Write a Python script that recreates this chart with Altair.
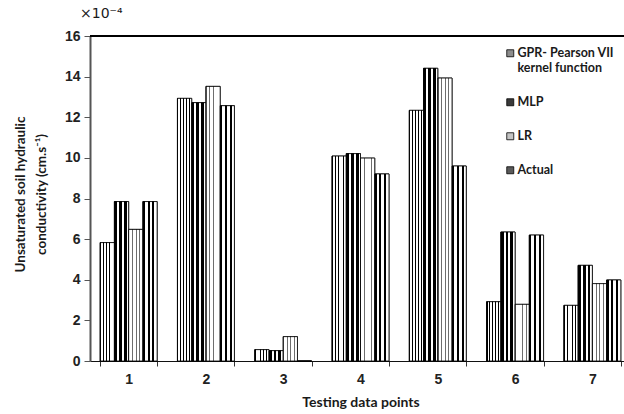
import altair as alt
import pandas as pd

# ---- data (values in units of 1e-4 cm/s) ----
points = ["1", "2", "3", "4", "5", "6", "7"]
series_names = ["GPR- Pearson VII kernel function", "MLP", "LR", "Actual"]
gpr = [5.83, 12.93, 0.56, 10.09, 12.34, 2.92, 2.74]
mlp = [7.85, 12.72, 0.51, 10.21, 14.41, 6.35, 4.71]
lr = [6.48, 13.52, 1.20, 9.99, 13.93, 2.79, 3.81]
actual = [7.85, 12.57, 0.00, 9.21, 9.60, 6.20, 3.99]
y_ticks = [0, 2, 4, 6, 8, 10, 12, 14, 16]

rows = []
for name, vals in zip(series_names, [gpr, mlp, lr, actual]):
    for p, v in zip(points, vals):
        rows.append({"point": p, "series": name, "value": v})
df = pd.DataFrame(rows)


# ---- stripe textures built from linear gradients ----
def stripes(n, frac, ink, paper):
    stops = []
    for i in range(n):
        a = i / n
        b = (i + frac) / n
        c = (i + 1) / n
        stops += [(a, ink), (b, ink), (b, paper), (c, paper)]
    return alt.LinearGradient(
        gradient="linear", x1=0, y1=0, x2=1, y2=0,
        stops=[alt.GradientStop(offset=o, color=col) for o, col in stops],
    )


tex_gpr = stripes(5, 0.32, "#000000", "#ffffff")
tex_mlp = stripes(3, 0.58, "#000000", "#ffffff")
tex_lr = stripes(4, 0.22, "#6e6e6e", "#ffffff")
tex_act = stripes(3, 0.42, "#000000", "#ffffff")

W, H = 534, 325
label_font = "Liberation Sans, Arial, sans-serif"
title_font = "Lato, Carlito, Calibri, sans-serif"

x_enc = alt.X(
    "point:N",
    sort=points,
    scale=alt.Scale(range=[0, 541], paddingInner=0.263, paddingOuter=0.1315),
    axis=alt.Axis(
        title="Testing data points",
        labelAngle=0,
        tickBand="extent",
        tickSize=5,
        tickColor="#333333",
        domainColor="#111111",
        domainWidth=1,
        labelFont=label_font,
        labelFontSize=14,
        labelFontWeight="bold",
        labelColor="#222222",
        labelPadding=6,
        titleFont=title_font,
        titleFontSize=14,
        titleFontWeight="bold",
        titleColor="#1a1a1a",
        titlePadding=9,
    ),
)
y_enc = alt.Y(
    "value:Q",
    scale=alt.Scale(domain=[0, 16], nice=False),
    axis=alt.Axis(
        title=["Unsaturated soil hydraulic", "conductivity (cm.s⁻¹)"],
        values=y_ticks,
        grid=False,
        tickSize=6,
        tickColor="#555555",
        domainColor="#555555",
        domainWidth=2,
        labelFont=label_font,
        labelFontSize=14,
        labelFontWeight="bold",
        labelColor="#222222",
        labelPadding=4,
        titleFont=title_font,
        titleFontSize=13.5,
        titleFontWeight="bold",
        titleColor="#1a1a1a",
        titleLineHeight=21,
        titleX=-63,
        titleY=158,
    ),
)
xoff = alt.XOffset("series:N", sort=series_names,
                   scale=alt.Scale(domain=series_names, paddingInner=0, paddingOuter=0))

base = alt.Chart(df).mark_bar(stroke="black", strokeWidth=0.8).encode(
    x=x_enc,
    y=y_enc,
    xOffset=xoff,
    fill=alt.Fill(
        "series:N",
        sort=series_names,
        scale=alt.Scale(domain=series_names,
                        range=["#8c8c8c", "#3a3a3a", "#c4c4c4", "#5a5a5a"]),
        legend=alt.Legend(
            title=None,
            orient="none",
            legendX=414,
            legendY=11,
            symbolType="square",
            symbolSize=49,
            symbolStrokeColor="black",
            symbolStrokeWidth=0.8,
            labelFont=title_font,
            labelFontSize=12.5,
            labelFontWeight="bold",
            labelColor="#1a1a1a",
            labelOffset=1,
            labelLimit=200,
            rowPadding=21,
            labelExpr="datum.label == 'GPR- Pearson VII kernel function' ? ['GPR- Pearson VII', '  kernel function'] : datum.label",
        ),
    ),
)

textured = alt.Chart(df).mark_bar(stroke="black", strokeWidth=0.8).encode(
    x=alt.X("point:N", sort=points),
    y=alt.Y("value:Q"),
    xOffset=alt.XOffset("series:N", sort=series_names),
    fill=alt.FillValue(
        value=tex_act,
        condition=[
            alt.ConditionalPredicateValueDefGradientstringnullExprRef(
                test=f"datum.series === '{series_names[0]}'", value=tex_gpr),
            alt.ConditionalPredicateValueDefGradientstringnullExprRef(
                test="datum.series === 'MLP'", value=tex_mlp),
            alt.ConditionalPredicateValueDefGradientstringnullExprRef(
                test="datum.series === 'LR'", value=tex_lr),
        ],
    ),
)

top_line = alt.Chart(df).mark_rule(color="black", strokeWidth=2).encode(
    x=alt.value(0), x2=alt.value(W), y=alt.value(0)
)

chart = (
    alt.layer(base, textured, top_line)
    .properties(
        width=W,
        height=H,
        autosize=alt.AutoSizeParams(type="none"),
        padding={"left": 90, "top": 36, "right": 0, "bottom": 53},
        title=alt.TitleParams(
            "×10⁻⁴",
            anchor="start",
            frame="group",
            dx=-10,
            offset=8,
            font="DejaVu Sans, sans-serif",
            fontSize=14,
            fontWeight="normal",
            color="#1a1a1a",
        ),
        background="white",
    )
    .configure_view(stroke=None)
)

chart.save("out.html", embed_options={"renderer": "svg", "actions": False})
